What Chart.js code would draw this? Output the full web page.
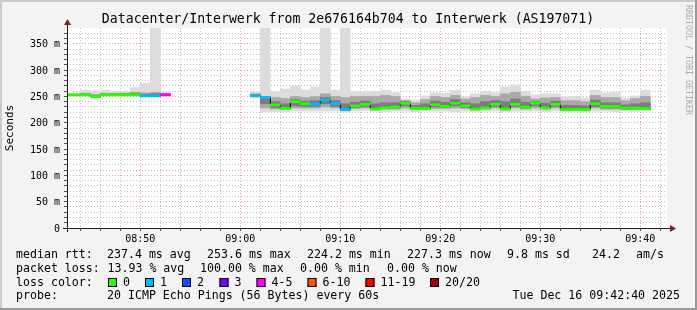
<!DOCTYPE html>
<html>
<head>
<meta charset="utf-8">
<script src="https://cdn.jsdelivr.net/npm/chart.js@4/dist/chart.umd.min.js"></script>
<style>
    html, body { margin: 0; padding: 0; background: #f3f3f3; }
    #grafico { display: block; }
</style>
</head>
<body>
<canvas id="grafico" width="697" height="310"></canvas>
<script>
// one sample per minute, minutes after 08:00 (null = no data)
const minutes = [42, 43, 44, 45, 46, 47, 48, 49, 50, 51, 52,
    53, 54, 55, 56, 57, 58, 59, 60,
    61, 62, 63, 64, 65, 66, 67, 68, 69, 70, 71, 72, 73, 74, 75, 76, 77, 78, 79, 80,
    81, 82, 83, 84, 85, 86, 87, 88, 89, 90, 91, 92, 93, 94, 95, 96, 97, 98, 99, 100];

const medianRtt = [253, 253, 253, 250, 253, 253, 253, 253, 251, 251, 253,
    null, null, null, null, null, null, null, null,
    251, 248, 234, 227, 240, 236, 235, 243, 236, 225, 232, 235, 226, 228, 230, 237, 227, 227, 234, 231,
    237, 232, 226, 228, 235, 226, 235, 230, 237, 228, 235, 225, 225, 225, 236, 231, 231, 228, 228, 227];

const lossCount = [0, 0, 0, 0, 0, 0, 0, 0, 1, 1, 4,
    null, null, null, null, null, null, null, null,
    1, 1, 0, 0, 0, 0, 1, 1, 1, 1, 0, 0, 0, 0, 0, 0, 0, 0, 0, 0,
    0, 0, 0, 0, 0, 0, 0, 0, 0, 0, 0, 0, 0, 0, 0, 0, 0, 0, 0, 0];

// smoke: ping spread per minute, outer to inner
const rttMin = [252, 252, 252, 249, 252, 252, 252, 252, 250, 250, 252,
    null, null, null, null, null, null, null, null,
    249, 221, 221, 221, 222, 222, 222, 222, 222, 220, 222, 223, 222, 221, 222, 222, 221, 222, 222, 222,
    221, 222, 221, 222, 222, 221, 222, 222, 222, 221, 222, 221, 222, 221, 222, 222, 221, 222, 221, 222];

const rttMax = [256, 256, 262, 260, 262, 259, 259, 267, 275, 400, 257,
    null, null, null, null, null, null, null, null,
    258, 400, 259, 264, 270, 262, 268, 400, 262, 400, 259, 259, 260, 262, 257, 245, 243, 251, 257, 256,
    262, 249, 255, 260, 257, 268, 272, 260, 253, 255, 255, 249, 250, 247, 262, 257, 258, 247, 251, 262];

const rttLow = [252, 252, 252, 249, 252, 252, 252, 252, 250, 250, 252,
    null, null, null, null, null, null, null, null,
    250, 228, 226, 225, 228, 228, 228, 230, 228, 224, 227, 228, 225, 226, 226, 228, 225, 225, 227, 227,
    228, 227, 225, 226, 228, 225, 228, 226, 228, 226, 228, 224, 224, 224, 228, 226, 226, 225, 225, 225];

const rttHigh = [254, 254, 256, 254, 256, 256, 256, 258, 257, 258, 256,
    null, null, null, null, null, null, null, null,
    255, 246, 248, 246, 250, 248, 250, 255, 250, 248, 250, 250, 250, 252, 250, 242, 238, 244, 250, 248,
    252, 245, 248, 252, 250, 255, 258, 250, 245, 247, 248, 242, 242, 240, 252, 248, 248, 242, 246, 250];

const rttCoreLow = [252, 252, 252, 249, 252, 252, 252, 252, 250, 250, 252,
    null, null, null, null, null, null, null, null,
    250, 236, 229, 226, 232, 231, 231, 236, 231, 226, 229, 231, 226, 227, 228, 232, 226, 226, 230, 229,
    232, 229, 226, 227, 231, 226, 231, 228, 232, 227, 231, 224, 224, 224, 231, 228, 228, 226, 226, 225];

const rttCoreHigh = [254, 254, 255, 252, 255, 255, 255, 256, 254, 255, 255,
    null, null, null, null, null, null, null, null,
    253, 250, 240, 236, 244, 241, 242, 248, 242, 236, 239, 241, 236, 238, 238, 240, 233, 236, 241, 239,
    244, 238, 236, 240, 242, 240, 245, 239, 240, 237, 241, 233, 233, 232, 243, 238, 238, 234, 236, 238];

const xTickMinutes = [50, 60, 70, 80, 90, 100];
const xTickLabels = ["08:50", "09:00", "09:10", "09:20", "09:30", "09:40"];
const yTickValues = [0, 50, 100, 150, 200, 250, 300, 350];
const yTickLabels = ["0", "50 m", "100 m", "150 m", "200 m", "250 m", "300 m", "350 m"];

const lossLabels = ["0", "1", "2", "3", "4-5", "6-10", "11-19", "20/20"];
const lossLimits = [0, 1, 2, 3, 5, 10, 19, 20];
const lossColors = ["#26ff00", "#00b8ff", "#0059ff", "#7e00ff", "#ff00ff", "#ff5500", "#ff0000", "#a10000"];

const rttStats = ["237.4 ms avg", "253.6 ms max", "224.2 ms min", "227.3 ms now", "9.8 ms sd", "24.2", "am/s"];
const lossStats = ["13.93 % avg", "100.00 % max", "0.00 % min", "0.00 % now"];

const mono = "DejaVu Sans Mono";
const minorGrid = "rgba(143, 143, 143, 0.55)";
const majorGrid = "rgba(224, 80, 80, 0.55)";

function lossClass(n) {
    return lossLimits.findIndex(l => n <= l);
}

function band(lo, hi) {
    const out = [];
    minutes.forEach((m, i) => {
        if (lo[i] != null) out.push({ x: m + 0.5, y: [lo[i], hi[i]] });
    });
    return out;
}

const medianBars = [];
const medianColors = [];
minutes.forEach((m, i) => {
    if (medianRtt[i] == null) return;
    medianBars.push({ x: m + 0.5, y: [medianRtt[i] - 2, medianRtt[i] + 2] });
    medianColors.push(lossColors[lossClass(lossCount[i])]);
});

const medianStep = minutes.map((m, i) => ({ x: m + 0.5, y: medianRtt[i] }));

// grid every 2 minutes / every 10 ms
const xGrid = [];
for (let m = 44; m <= 102; m += 2) xGrid.push(m);
const yGrid = [];
for (let v = 0; v <= 370; v += 10) yGrid.push(v);

const decor = {
    id: "decor",
    beforeDraw(chart) {
        const ctx = chart.ctx;
        const a = chart.chartArea;
        ctx.save();
        ctx.fillStyle = "#f3f3f3";
        ctx.fillRect(0, 0, chart.width, chart.height);
        ctx.fillStyle = "#cbcbcb";
        ctx.fillRect(0, 0, chart.width, 2);
        ctx.fillRect(0, 0, 2, chart.height);
        ctx.fillStyle = "#999999";
        ctx.fillRect(0, chart.height - 2, chart.width, 2);
        ctx.fillRect(chart.width - 2, 0, 2, chart.height);
        ctx.fillStyle = "#ffffff";
        ctx.fillRect(a.left, a.top, a.right - a.left, a.bottom - a.top);
        ctx.restore();
    },
    afterDraw(chart) {
        const ctx = chart.ctx;
        const a = chart.chartArea;
        ctx.save();

        // axes with arrows
        ctx.strokeStyle = "#1f1f1f";
        ctx.lineWidth = 1;
        ctx.beginPath();
        ctx.moveTo(a.left - 4, a.bottom + 0.5);
        ctx.lineTo(a.right + 4, a.bottom + 0.5);
        ctx.moveTo(a.left + 0.5, a.bottom + 4);
        ctx.lineTo(a.left + 0.5, a.top - 4);
        ctx.stroke();
        ctx.fillStyle = "#7f1f1f";
        ctx.beginPath();
        ctx.moveTo(a.right + 9, a.bottom + 0.5);
        ctx.lineTo(a.right + 3, a.bottom - 3);
        ctx.lineTo(a.right + 3, a.bottom + 4);
        ctx.closePath();
        ctx.fill();
        ctx.beginPath();
        ctx.moveTo(a.left + 0.5, a.top - 9);
        ctx.lineTo(a.left - 3, a.top - 3);
        ctx.lineTo(a.left + 4, a.top - 3);
        ctx.closePath();
        ctx.fill();

        // title
        ctx.fillStyle = "#000";
        ctx.textBaseline = "middle";
        ctx.textAlign = "center";
        ctx.font = "13.2px '" + mono + "'";
        ctx.fillText("Datacenter/Interwerk from 2e676164b704 to Interwerk (AS197071)", 348, 19.5);

        // legend rows
        ctx.textAlign = "left";
        ctx.font = "11.6px '" + mono + "'";
        ctx.fillText("median rtt:", 16, 255);
        [107, 207, 307, 407, 507, 592, 636].forEach((x, i) => ctx.fillText(rttStats[i], x, 255));
        ctx.fillText("packet loss:", 16, 268.5);
        [107.5, 200, 300, 387].forEach((x, i) => ctx.fillText(lossStats[i], x, 268.5));
        ctx.fillText("loss color:", 16, 282.5);
        [108, 145, 182, 219.5, 256.5, 307.5, 365.5, 430].forEach((x, i) => {
            ctx.fillStyle = lossColors[i];
            ctx.fillRect(x, 278, 9, 9);
            ctx.strokeStyle = "#000";
            ctx.strokeRect(x + 0.5, 278.5, 8, 8);
            ctx.fillStyle = "#000";
            ctx.fillText(lossLabels[i], x + 15, 282.5);
        });
        ctx.fillText("probe:", 16, 296);
        ctx.fillText("20 ICMP Echo Pings (56 Bytes) every 60s", 107, 296);
        ctx.textAlign = "right";
        ctx.fillText("Tue Dec 16 09:42:40 2025", 680, 296);

        // watermark
        ctx.translate(688, 60);
        ctx.rotate(Math.PI / 2);
        ctx.textAlign = "center";
        ctx.fillStyle = "#aaaaaa";
        ctx.font = "8.3px '" + mono + "'";
        ctx.fillText("RRDTOOL / TOBI OETIKER", 0, 0);
        ctx.restore();
    }
};

function smokeSet(label, lo, hi, color, order) {
    return {
        label: label,
        data: band(lo, hi),
        backgroundColor: color,
        grouped: false,
        barPercentage: 1,
        categoryPercentage: 1,
        order: order
    };
}

Chart.defaults.font.family = mono;

new Chart(document.getElementById("grafico"), {
    type: "bar",
    data: {
        datasets: [
            smokeSet("smoke outer", rttMin, rttMax, "#dcdcdc", 6),
            smokeSet("smoke mid", rttLow, rttHigh, "#a9a9a9", 5),
            smokeSet("smoke core", rttCoreLow, rttCoreHigh, "#7c7c7c", 4),
            {
                type: "line",
                label: "median step",
                data: medianStep,
                borderColor: "#000",
                borderWidth: 1,
                pointRadius: 0,
                stepped: "middle",
                spanGaps: false,
                order: 2
            },
            {
                label: "median rtt",
                data: medianBars,
                backgroundColor: medianColors,
                grouped: false,
                barPercentage: 1,
                categoryPercentage: 1,
                order: 1
            }
        ]
    },
    plugins: [decor],
    options: {
        responsive: false,
        animation: false,
        devicePixelRatio: 1,
        layout: { padding: { top: 28, right: 30, left: 0, bottom: 0 } },
        plugins: {
            legend: { display: false },
            tooltip: { enabled: false }
        },
        scales: {
            x: {
                type: "linear",
                offset: false,
                min: 42 + 40 / 60,
                max: 102 + 40 / 60,
                afterBuildTicks: scale => { scale.ticks = xGrid.map(v => ({ value: v })); },
                afterFit: scale => { scale.height = 82; },
                grid: {
                    offset: false,
                    color: c => (c.tick && c.tick.value % 10 === 0) ? majorGrid : minorGrid,
                    tickLength: 3,
                    tickColor: "#555",
                    tickBorderDash: []
                },
                border: { display: false, dash: [1, 2] },
                ticks: {
                    autoSkip: false,
                    maxRotation: 0,
                    padding: 2,
                    color: "#000",
                    font: { family: mono, size: 10 },
                    callback: v => {
                        const i = xTickMinutes.indexOf(v);
                        return i >= 0 ? xTickLabels[i] : "";
                    }
                }
            },
            y: {
                min: 0,
                max: 380,
                afterBuildTicks: scale => { scale.ticks = yGrid.map(v => ({ value: v })); },
                afterFit: scale => { scale.width = 67; },
                grid: {
                    color: c => (c.tick && c.tick.value % 50 === 0) ? majorGrid : minorGrid,
                    tickLength: 3,
                    tickColor: "#555",
                    tickBorderDash: []
                },
                border: { display: false, dash: [1, 2] },
                title: {
                    display: true,
                    text: "Seconds",
                    color: "#000",
                    font: { family: mono, size: 11 },
                    padding: { top: 4, bottom: 0 }
                },
                ticks: {
                    autoSkip: false,
                    padding: 4,
                    labelOffset: 1,
                    color: "#000",
                    font: { family: mono, size: 10 },
                    callback: v => {
                        const i = yTickValues.indexOf(v);
                        return i >= 0 ? yTickLabels[i] : "";
                    }
                }
            }
        }
    }
});
</script>
</body>
</html>
